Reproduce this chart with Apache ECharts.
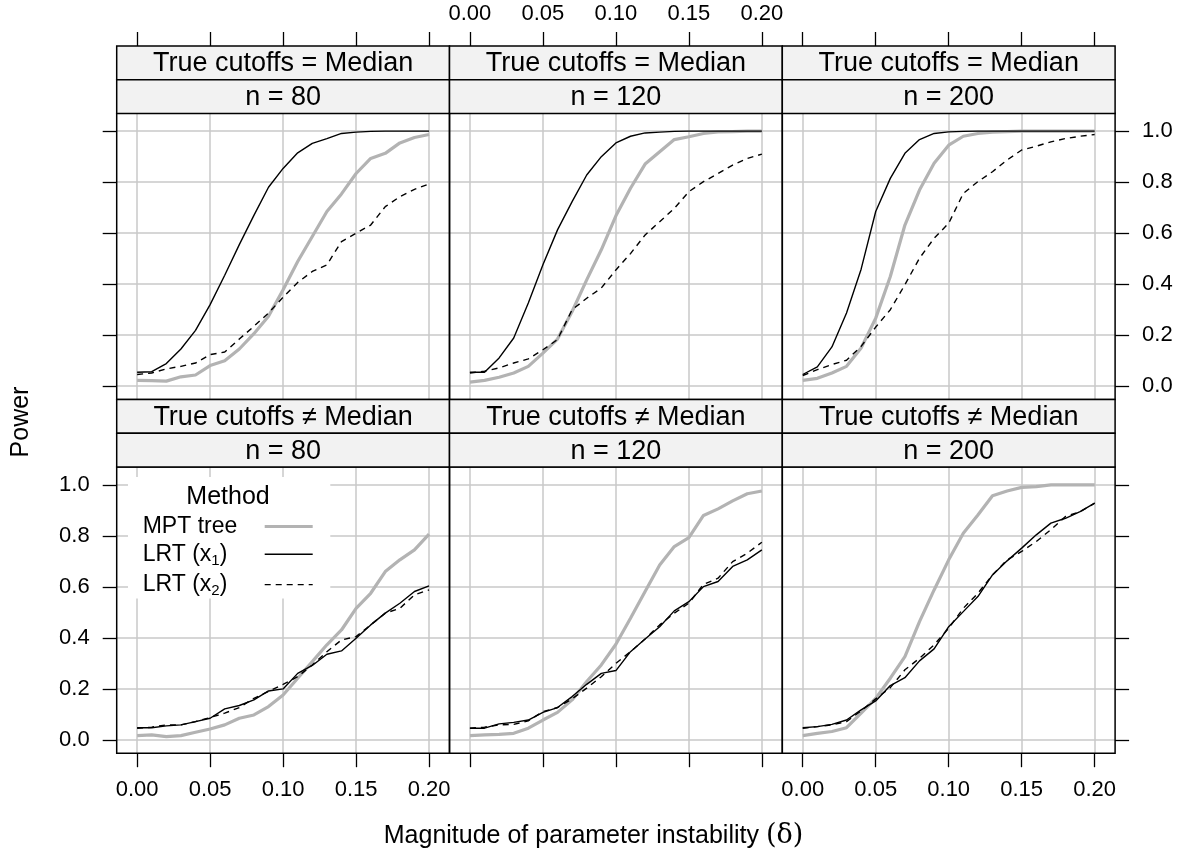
<!DOCTYPE html>
<html><head><meta charset="utf-8">
<script src="https://cdn.jsdelivr.net/npm/echarts@6/dist/echarts.min.js"></script>
<style>html,body{margin:0;padding:0;background:#fff}#c{width:1187px;height:860px}</style>
</head><body><div id="c"></div>
<script>
// ---------------- data ----------------
const delta = [0.00,0.01,0.02,0.03,0.04,0.05,0.06,0.07,0.08,0.09,0.10,0.11,0.12,0.13,0.14,0.15,0.16,0.17,0.18,0.19,0.20];
const xTicks = [0, 0.05, 0.10, 0.15, 0.20];
const yTicks = [0, 0.2, 0.4, 0.6, 0.8, 1.0];
const cutoffLabels = ['True cutoffs = Median', 'True cutoffs \u2260 Median'];
const sampleSizes = ['n = 80', 'n = 120', 'n = 200'];
const methods = ['MPT tree', 'LRT (x1)', 'LRT (x2)'];

// True cutoffs = Median
const mptMed80  = [0.023,0.022,0.020,0.037,0.044,0.081,0.100,0.146,0.206,0.274,0.378,0.489,0.587,0.685,0.754,0.834,0.893,0.913,0.954,0.975,0.987];
const lrt1Med80 = [0.055,0.057,0.089,0.146,0.219,0.320,0.435,0.555,0.670,0.780,0.854,0.915,0.952,0.971,0.991,0.996,0.999,1.000,1.000,1.000,1.000];
const lrt2Med80 = [0.046,0.052,0.068,0.078,0.091,0.124,0.134,0.185,0.235,0.287,0.349,0.407,0.450,0.476,0.567,0.600,0.632,0.704,0.743,0.772,0.793];

const mptMed120  = [0.016,0.023,0.035,0.052,0.078,0.130,0.185,0.293,0.417,0.535,0.668,0.776,0.871,0.919,0.967,0.978,0.991,0.997,0.998,1.000,1.000];
const lrt1Med120 = [0.055,0.055,0.111,0.189,0.326,0.476,0.613,0.724,0.828,0.900,0.954,0.980,0.993,0.996,0.999,1.000,1.000,1.000,1.000,1.000,1.000];
const lrt2Med120 = [0.052,0.059,0.072,0.091,0.107,0.143,0.183,0.300,0.345,0.385,0.456,0.520,0.593,0.645,0.697,0.763,0.802,0.834,0.867,0.893,0.910];

const mptMed200  = [0.023,0.031,0.052,0.078,0.150,0.267,0.430,0.632,0.769,0.874,0.945,0.980,0.991,0.996,0.998,1.000,1.000,1.000,1.000,1.000,1.000];
const lrt1Med200 = [0.046,0.076,0.154,0.287,0.459,0.685,0.815,0.913,0.967,0.991,0.997,0.999,1.000,1.000,1.000,1.000,1.000,1.000,1.000,1.000,1.000];
const lrt2Med200 = [0.042,0.065,0.085,0.102,0.156,0.232,0.300,0.398,0.502,0.580,0.639,0.756,0.802,0.841,0.887,0.926,0.941,0.958,0.971,0.980,0.987];

// True cutoffs != Median
const mptNeq80  = [0.017,0.020,0.013,0.017,0.030,0.043,0.059,0.085,0.098,0.131,0.176,0.242,0.307,0.373,0.431,0.516,0.575,0.660,0.706,0.745,0.807];
const lrt1Neq80 = [0.048,0.048,0.055,0.059,0.072,0.085,0.122,0.135,0.157,0.192,0.200,0.261,0.292,0.336,0.349,0.399,0.451,0.497,0.536,0.582,0.604];
const lrt2Neq80 = [0.046,0.050,0.059,0.059,0.072,0.088,0.105,0.127,0.163,0.190,0.218,0.248,0.294,0.346,0.392,0.405,0.451,0.497,0.516,0.569,0.588];

const mptNeq120  = [0.017,0.020,0.022,0.026,0.046,0.078,0.108,0.157,0.229,0.294,0.375,0.477,0.582,0.686,0.758,0.793,0.880,0.906,0.937,0.965,0.976];
const lrt1Neq120 = [0.046,0.046,0.063,0.069,0.078,0.108,0.127,0.170,0.218,0.261,0.272,0.346,0.396,0.444,0.506,0.542,0.601,0.621,0.680,0.706,0.745];
const lrt2Neq120 = [0.046,0.050,0.059,0.061,0.075,0.111,0.127,0.161,0.203,0.248,0.300,0.346,0.396,0.451,0.497,0.536,0.610,0.634,0.699,0.732,0.775];

const mptNeq200  = [0.017,0.026,0.033,0.048,0.105,0.163,0.242,0.327,0.464,0.588,0.706,0.810,0.882,0.957,0.976,0.990,0.993,1.000,1.000,1.000,1.000];
const lrt1Neq200 = [0.048,0.052,0.061,0.078,0.118,0.153,0.213,0.244,0.310,0.357,0.444,0.503,0.562,0.647,0.702,0.752,0.804,0.850,0.869,0.895,0.928];
const lrt2Neq200 = [0.046,0.052,0.059,0.072,0.114,0.161,0.205,0.275,0.320,0.373,0.438,0.516,0.575,0.647,0.706,0.739,0.778,0.824,0.876,0.895,0.928];

const panels = [
  [mptMed80, lrt1Med80, lrt2Med80],
  [mptMed120, lrt1Med120, lrt2Med120],
  [mptMed200, lrt1Med200, lrt2Med200],
  [mptNeq80, lrt1Neq80, lrt2Neq80],
  [mptNeq120, lrt1Neq120, lrt2Neq120],
  [mptNeq200, lrt1Neq200, lrt2Neq200]
];

// ---------------- layout / style ----------------
const FONT = '"Liberation Sans", Arial, Helvetica, sans-serif';
const colLeft = [116.7, 449.5, 782.3];
const colW = 332.8;
const rowTop = [113.3, 467.0];
const panelH = 286.2;
const stripH = 33.7;
const stripTop = [46.0, 399.5];
const xMin = -0.014, xMax = 0.214;
const yMin = -0.052, yMax = 1.07;
const gridColor = '#c8c8c8';
const TICK_FS = 22;
const lineStyles = [
  {color: '#b3b3b3', width: 3.2, type: 'solid'},
  {color: '#000000', width: 1.4, type: 'solid'},
  {color: '#000000', width: 1.4, type: [6, 5]}
];

const grids = [], xAxes = [], yAxes = [], series = [], graphics = [];

for (let r = 0; r < 2; r++) {
  for (let c = 0; c < 3; c++) {
    const p = r * 3 + c;
    grids.push({left: colLeft[c], top: rowTop[r], width: colW, height: panelH,
      show: false, containLabel: false, outerBoundsMode: 'none'});
    xAxes.push({
      gridIndex: p, type: 'value', min: xMin, max: xMax, position: 'bottom',
      axisLine: {show: false, onZero: false},
      axisTick: {show: r === 1, inside: false, customValues: xTicks, length: 14, lineStyle: {color: '#000', width: 1.3}},
      axisLabel: {show: r === 1 && c !== 1, customValues: xTicks, margin: 26,
        formatter: v => v.toFixed(2), fontSize: TICK_FS, color: '#000', fontFamily: FONT},
      splitLine: {show: true, lineStyle: {color: gridColor, width: 1.5}}
    });
    yAxes.push({
      gridIndex: p, type: 'value', min: yMin, max: yMax, position: c === 2 ? 'right' : 'left',
      axisLine: {show: false, onZero: false},
      axisTick: {show: c !== 1, inside: false, customValues: yTicks, length: 14, lineStyle: {color: '#000', width: 1.3}},
      axisLabel: {show: (c === 0 && r === 1) || (c === 2 && r === 0), customValues: yTicks, margin: 27,
        formatter: v => v.toFixed(1), fontSize: TICK_FS, color: '#000', fontFamily: FONT},
      splitLine: {show: true, lineStyle: {color: gridColor, width: 1.5}}
    });
    panels[p].forEach((vals, m) => {
      series.push({
        name: methods[m], type: 'line', xAxisIndex: p, yAxisIndex: p,
        data: delta.map((d, i) => [d, vals[i]]),
        symbol: 'none', silent: true, z: m === 0 ? 2 : 3,
        lineStyle: lineStyles[m], itemStyle: {color: lineStyles[m].color}
      });
    });
    // panel border
    graphics.push({type: 'rect', z: 100, silent: true,
      shape: {x: colLeft[c], y: rowTop[r], width: colW, height: panelH},
      style: {fill: 'none', stroke: '#000', lineWidth: 1.5}});
    // strips
    const labels = [cutoffLabels[r], sampleSizes[c]];
    for (let s = 0; s < 2; s++) {
      const y0 = stripTop[r] + s * stripH;
      graphics.push({type: 'rect', z: 100, silent: true,
        shape: {x: colLeft[c], y: y0, width: colW, height: stripH},
        style: {fill: '#f2f2f2', stroke: '#000', lineWidth: 1.5}});
      graphics.push({type: 'text', z: 101, silent: true,
        x: colLeft[c] + colW / 2, y: y0 + stripH / 2 + 1,
        style: {text: labels[s], fill: '#000', font: '27px ' + FONT, textAlign: 'center', textVerticalAlign: 'middle'}});
    }
  }
}

// top axes (ticks above strips) for top row
for (let c = 0; c < 3; c++) {
  const g = grids.length;
  grids.push({left: colLeft[c], top: stripTop[0], width: colW, height: rowTop[0] + panelH - stripTop[0],
    show: false, containLabel: false, outerBoundsMode: 'none'});
  xAxes.push({
    gridIndex: g, type: 'value', min: xMin, max: xMax, position: 'top',
    axisLine: {show: false, onZero: false},
    axisTick: {show: true, inside: false, customValues: xTicks, length: 14, lineStyle: {color: '#000', width: 1.3}},
    axisLabel: {show: c === 1, customValues: xTicks, margin: 21,
      formatter: v => v.toFixed(2), fontSize: TICK_FS, color: '#000', fontFamily: FONT},
    splitLine: {show: false}
  });
  yAxes.push({gridIndex: g, type: 'value', min: yMin, max: yMax, show: false, axisLine: {onZero: false}});
}

// axis titles and legend title
graphics.push({type: 'text', z: 101, x: 21, y: 422, rotation: Math.PI / 2,
  style: {text: 'Power', fill: '#000', font: '25px ' + FONT, textAlign: 'center', textVerticalAlign: 'middle'}});
graphics.push({type: 'text', z: 101, x: 593.5, y: 836,
  style: {text: '{a|Magnitude of parameter instability }{b|(\u03b4)}', fill: '#000', textAlign: 'center', textVerticalAlign: 'middle',
    rich: {a: {fontSize: 25, fontFamily: FONT, fill: '#000'}, b: {fontSize: 27, fontFamily: '"DejaVu Serif", "Liberation Serif", serif', fill: '#000'}}}});
graphics.push({type: 'text', z: 120, x: 228, y: 497,
  style: {text: 'Method', fill: '#000', font: '25px ' + FONT, textAlign: 'center', textVerticalAlign: 'middle'}});

const chart = echarts.init(document.getElementById('c'), null, {renderer: 'canvas'});
chart.setOption({
  animation: false,
  backgroundColor: '#fff',
  textStyle: {fontFamily: FONT},
  grid: grids, xAxis: xAxes, yAxis: yAxes, series: series,
  legend: {
    show: true, orient: 'vertical', left: 128, top: 477, align: 'right',
    itemWidth: 48, itemHeight: 14, itemGap: 4.8, padding: [38, 16, 0, 14.7],
    backgroundColor: '#fff', selectedMode: false, z: 110,
    data: methods.map((name, m) => ({name: name, lineStyle: {width: lineStyles[m].width, color: lineStyles[m].color, type: lineStyles[m].type}})),
    itemStyle: {opacity: 0, borderWidth: 0},
    formatter: name => {
      if (name === 'MPT tree') return '{a|MPT tree}';
      const k = name.indexOf('x');
      return '{a|' + name.slice(0, k + 1) + '}{s|' + name.charAt(k + 1) + '}{a|)}';
    },
    textStyle: {width: 117, color: '#000', fontSize: 23, fontFamily: FONT,
      rich: {
        a: {fontSize: 23, fontFamily: FONT, color: '#000', align: 'left', lineHeight: 28, verticalAlign: 'middle'},
        s: {fontSize: 15, fontFamily: FONT, color: '#000', align: 'left', lineHeight: 28, verticalAlign: 'bottom'}
      }}
  },
  graphic: {elements: graphics}
});
</script></body></html>
